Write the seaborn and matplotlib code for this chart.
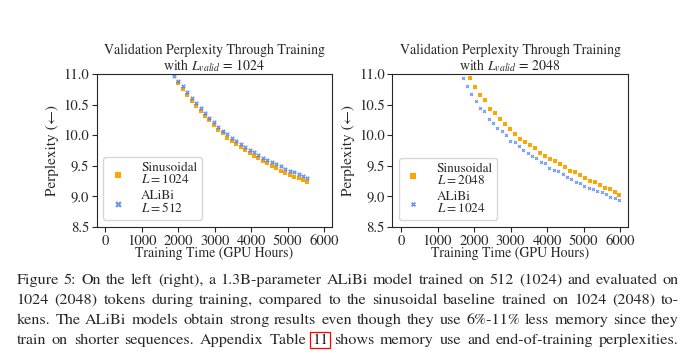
import numpy as np
import pandas as pd
import matplotlib.pyplot as plt
import seaborn as sns

# ---- data ----
left_x = [1875, 2000, 2120, 2240, 2365, 2490, 2610, 2730, 2855, 2975, 3100,
          3220, 3340, 3465, 3590, 3710, 3830, 3955, 4075, 4200, 4320, 4440,
          4565, 4690, 4810, 4930, 5055, 5175, 5300, 5420, 5545]
left_alibi = [10.97, 10.89, 10.80, 10.70, 10.61, 10.52, 10.44, 10.36, 10.28,
              10.21, 10.13, 10.07, 10.01, 9.95, 9.91, 9.86, 9.81, 9.76, 9.72,
              9.68, 9.63, 9.60, 9.56, 9.52, 9.49, 9.45, 9.42, 9.39, 9.36,
              9.33, 9.30]
left_sin = [10.86, 10.76, 10.65, 10.56, 10.47, 10.39, 10.32, 10.24, 10.17,
            10.09, 10.03, 9.96, 9.91, 9.85, 9.81, 9.76, 9.71, 9.66, 9.62,
            9.57, 9.54, 9.49, 9.46, 9.42, 9.38, 9.35, 9.32, 9.30, 9.27, 9.24]

right_sin_x = [1896, 2033, 2170, 2306, 2443, 2580, 2717, 2854, 2990, 3127,
               3264, 3400, 3537, 3674, 3811, 3948, 4084, 4221, 4358, 4495,
               4631, 4768, 4905, 5042, 5178, 5315, 5452, 5589, 5726, 5862, 5970]
right_sin = [10.93, 10.79, 10.66, 10.57, 10.43, 10.36, 10.27, 10.18, 10.10,
             10.01, 9.93, 9.89, 9.83, 9.79, 9.71, 9.66, 9.61, 9.57, 9.52,
             9.47, 9.41, 9.39, 9.34, 9.29, 9.25, 9.23, 9.18, 9.13, 9.11,
             9.07, 9.02]
right_alibi_x = [1685, 1804, 1923, 2042, 2161, 2280, 2400, 2519, 2638, 2757,
                 2876, 2995, 3114, 3233, 3352, 3471, 3590, 3710, 3829, 3948,
                 4067, 4186, 4305, 4424, 4543, 4662, 4781, 4900, 5020, 5139,
                 5258, 5377, 5496, 5615, 5734, 5853, 5972]
right_alibi = [10.93, 10.80, 10.68, 10.55, 10.45, 10.39, 10.27, 10.20, 10.11,
               10.07, 10.00, 9.91, 9.88, 9.82, 9.76, 9.71, 9.66, 9.62, 9.56,
               9.54, 9.46, 9.43, 9.41, 9.36, 9.32, 9.28, 9.24, 9.21, 9.17,
               9.14, 9.12, 9.08, 9.06, 9.03, 8.99, 8.97, 8.94]

panels = [
    ("1024", "Sinusoidal\n$L = 1024$", "ALiBi\n$L = 512$",
     left_x[1:], left_sin, left_x, left_alibi, 11, 11),
    ("2048", "Sinusoidal\n$L = 2048$", "ALiBi\n$L = 1024$",
     right_sin_x, right_sin, right_alibi_x, right_alibi, 7, 7),
]

caption = [
    "Figure 5: On the left (right), a 1.3B-parameter ALiBi model trained on 512 (1024) and evaluated on",
    "1024 (2048) tokens during training, compared to the sinusoidal baseline trained on 1024 (2048) to-",
    "kens. The ALiBi models obtain strong results even though they use 6%-11% less memory since they",
    "train on shorter sequences. Appendix Table 11 shows memory use and end-of-training perplexities.",
]

ORANGE = "#ffa500"
BLUE = "#5082f2"

sns.set_theme(style="ticks")
plt.rcParams["font.family"] = ["STIXGeneral", "DejaVu Serif"]
plt.rcParams["mathtext.fontset"] = "stix"

fig = plt.figure(figsize=(6.85, 3.61), dpi=100)
W, H = 685, 361
axes = [fig.add_axes([96.7 / W, 1 - 226.7 / H, 235 / W, 152.7 / H]),
        fig.add_axes([392.3 / W, 1 - 226.7 / H, 235.4 / W, 152.7 / H])]

for ax, (lv, lab_s, lab_a, sx, sy, ax_, ay, s_sin, s_ali) in zip(axes, panels):
    df_s = pd.DataFrame({"hours": sx, "ppl": sy})
    df_a = pd.DataFrame({"hours": ax_, "ppl": ay})
    sns.scatterplot(data=df_s, x="hours", y="ppl", ax=ax, marker="s",
                    color=ORANGE, s=s_sin, linewidth=0, label=lab_s)
    sns.scatterplot(data=df_a, x="hours", y="ppl", ax=ax, marker="X",
                    color=BLUE, s=s_ali, linewidth=0, alpha=0.85, label=lab_a)
    ax.set_xlim(-240, 6210)
    ax.set_ylim(8.5, 11.0)
    ax.set_xticks(range(0, 7000, 1000))
    ax.set_yticks(np.arange(8.5, 11.01, 0.5))
    ax.tick_params(labelsize=10.5, length=3.5, width=0.8, pad=2)
    for sp in ax.spines.values():
        sp.set_linewidth(0.8)
    ax.set_title("Validation Perplexity Through Training\nwith $L_{valid}$ = " + lv,
                 fontsize=10, linespacing=0.95, pad=3)
    ax.set_xlabel("Training Time (GPU Hours)", fontsize=10, labelpad=-1)
    ax.set_ylabel("Perplexity (\u2190)", fontsize=11, labelpad=3)
    ax.legend(loc="lower left", frameon=True, markerscale=1.4,
              handletextpad=1.0, borderpad=0.35, labelspacing=0.3,
              handlelength=1.5, fancybox=True, edgecolor="0.8",
              prop={"size": 9.5})
    for t in ax.get_legend().get_texts():
        t.set_linespacing(0.95)

# caption, justified word by word
renderer = fig.canvas.get_renderer()
x0, x1 = 16.5, 679.0
for i, line in enumerate(caption):
    y = 1 - (280 + 20 * i) / H
    words = line.split(" ")
    texts = []
    for w in words:
        kw = {}
        if w == "11":
            kw["bbox"] = dict(boxstyle="square,pad=0.1", fc="none", ec="red", lw=0.9)
        texts.append(fig.text(0, y, w, fontsize=11.6, va="center", ha="left", **kw))
    widths = [t.get_window_extent(renderer).width for t in texts]
    gap = (x1 - x0 - sum(widths)) / (len(words) - 1)
    x = x0
    for t, w in zip(texts, widths):
        t.set_x(x / W)
        x += w + gap

fig.savefig("out.png", dpi=100)
